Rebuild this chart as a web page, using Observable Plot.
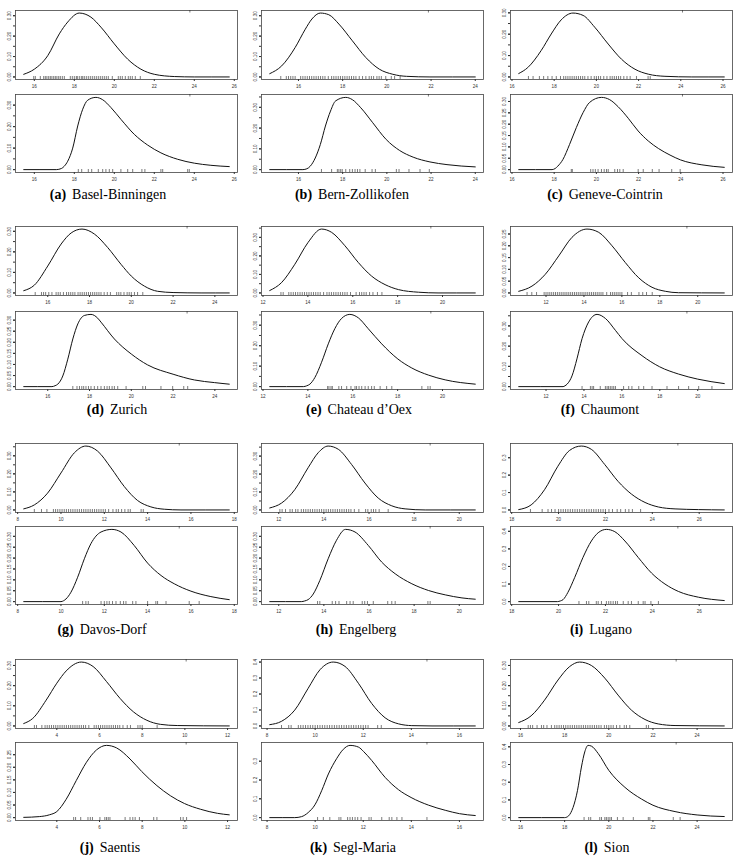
<!DOCTYPE html>
<html><head><meta charset="utf-8">
<script src="https://cdn.jsdelivr.net/npm/d3@7"></script>
<script src="https://cdn.jsdelivr.net/npm/@observablehq/plot@0.6"></script>
<style>
body{margin:0;background:#fff;}
#chart{position:relative;width:736px;height:856px;overflow:hidden;background:#fff;}
.cap{position:absolute;font-family:"Liberation Serif","Times New Roman",serif;font-size:14px;color:#000;white-space:nowrap;transform:translate(-50%,-50%);}
.cap b{margin-right:6px;}
</style></head>
<body><div id="chart"></div>
<script>
// ---------- station names & letters ----------
const letters = ["a","b","c","d","e","f","g","h","i","j","k","l"];
const stations = ["Basel-Binningen","Bern-Zollikofen","Geneve-Cointrin","Zurich","Chateau d\u2019Oex","Chaumont","Davos-Dorf","Engelberg","Lugano","Saentis","Segl-Maria","Sion"];

// ---------- density curves [x, density] (top: fitted, bottom: maxima) ----------
const basel_top = [[15.47,0.013],[16.0,0.038],[16.67,0.104],[17.25,0.211],[17.67,0.269],[18.25,0.313],[18.83,0.293],[19.33,0.244],[20.0,0.162],[20.67,0.087],[21.33,0.038],[22.0,0.013],[23.0,0.002],[24.0,0.0],[25.75,0.0]];
const basel_bottom = [[15.47,0],[17.1,0],[17.35,0.005],[17.5,0.016],[17.67,0.039],[17.92,0.10],[18.17,0.203],[18.42,0.281],[18.67,0.323],[19.08,0.336],[19.42,0.325],[19.83,0.289],[20.33,0.234],[21.0,0.164],[21.67,0.114],[22.33,0.078],[23.17,0.048],[24.0,0.030],[24.83,0.020],[25.75,0.014]];
const bern_top = [[14.70,0.016],[15.24,0.054],[15.85,0.144],[16.31,0.234],[16.61,0.284],[16.99,0.313],[17.37,0.305],[17.83,0.259],[18.44,0.177],[19.05,0.095],[19.66,0.038],[20.27,0.013],[20.89,0.003],[21.95,0],[24.0,0]];
const bern_bottom = [[14.70,0],[16.2,0],[16.38,0.004],[16.53,0.016],[16.76,0.056],[16.99,0.121],[17.22,0.210],[17.45,0.282],[17.68,0.331],[18.14,0.348],[18.44,0.337],[18.82,0.298],[19.36,0.226],[19.97,0.145],[20.58,0.092],[21.19,0.060],[21.95,0.037],[22.72,0.024],[24.0,0.013]];
const geneve_top = [[16.32,0.016],[16.75,0.044],[17.38,0.123],[17.86,0.201],[18.33,0.267],[18.89,0.299],[19.37,0.288],[19.92,0.233],[20.56,0.154],[21.19,0.083],[21.83,0.036],[22.46,0.013],[23.25,0.003],[24.52,0],[26.06,0]];
const geneve_bottom = [[16.32,0],[17.9,0],[18.05,0.005],[18.17,0.015],[18.41,0.044],[18.73,0.111],[19.05,0.185],[19.37,0.251],[19.68,0.296],[20.24,0.318],[20.63,0.308],[21.03,0.277],[21.51,0.226],[21.98,0.170],[22.46,0.126],[22.94,0.093],[23.49,0.064],[23.98,0.043],[25.0,0.021],[26.06,0.010]];
const zurich_top = [[14.85,0.011],[15.36,0.038],[16.0,0.131],[16.64,0.238],[17.12,0.292],[17.64,0.311],[18.23,0.287],[18.87,0.221],[19.51,0.139],[20.0,0.082],[20.63,0.033],[21.26,0.008],[22.0,0.002],[23.34,0],[24.69,0]];
const zurich_bottom = [[14.85,0],[16.2,0],[16.35,0.004],[16.48,0.011],[16.72,0.048],[16.96,0.124],[17.2,0.215],[17.44,0.283],[17.75,0.321],[18.07,0.326],[18.39,0.309],[18.55,0.291],[19.19,0.215],[20.0,0.147],[20.78,0.098],[22.0,0.056],[23.02,0.030],[23.99,0.018],[24.69,0.011]];
const oex_top = [[12.30,0.013],[12.82,0.055],[13.42,0.155],[14.01,0.273],[14.61,0.345],[15.06,0.327],[15.65,0.255],[16.25,0.164],[16.84,0.091],[17.44,0.045],[18.04,0.018],[18.93,0.004],[19.8,0],[21.46,0]];
const oex_bottom = [[12.30,0],[13.8,0],[13.95,0.004],[14.09,0.012],[14.31,0.044],[14.61,0.119],[14.91,0.209],[15.2,0.283],[15.5,0.333],[15.87,0.353],[16.25,0.336],[16.69,0.283],[17.29,0.209],[18.01,0.135],[18.63,0.091],[19.38,0.056],[20.12,0.033],[21.46,0.012]];
const chaumont_top = [[10.56,0.007],[11.26,0.029],[11.96,0.079],[12.67,0.157],[13.37,0.236],[14.16,0.271],[14.78,0.257],[15.48,0.2],[16.18,0.129],[16.89,0.064],[17.59,0.024],[18.29,0.007],[18.99,0.001],[21.40,0]];
const chaumont_bottom = [[10.56,0],[12.9,0],[13.0,0.004],[13.11,0.012],[13.37,0.053],[13.63,0.137],[13.9,0.237],[14.25,0.32],[14.69,0.357],[15.13,0.337],[15.66,0.278],[16.01,0.237],[17.06,0.153],[17.99,0.098],[18.99,0.062],[20.0,0.037],[21.40,0.015]];
const davos_top = [[8.28,0.006],[8.77,0.028],[9.38,0.093],[10.0,0.205],[10.62,0.317],[11.15,0.354],[11.69,0.326],[12.31,0.233],[12.92,0.130],[13.54,0.052],[14.15,0.017],[14.77,0.004],[15.54,0],[17.77,0]];
const davos_bottom = [[8.28,0],[10.0,0],[10.12,0.004],[10.23,0.012],[10.46,0.043],[10.77,0.112],[11.08,0.197],[11.38,0.266],[11.85,0.32],[12.35,0.332],[12.77,0.32],[13.38,0.258],[14.0,0.177],[14.62,0.12],[15.23,0.082],[16.0,0.048],[16.92,0.023],[17.77,0.009]];
const engelberg_top = [[11.6,0.011],[12.12,0.038],[12.71,0.113],[13.3,0.235],[13.75,0.319],[14.19,0.356],[14.64,0.338],[15.23,0.253],[15.82,0.15],[16.41,0.066],[17.01,0.023],[17.6,0.006],[18.49,0],[20.71,0]];
const engelberg_bottom = [[11.6,0],[13.0,0],[13.15,0.003],[13.3,0.009],[13.53,0.035],[13.82,0.097],[14.19,0.197],[14.56,0.282],[14.96,0.332],[15.38,0.32],[15.97,0.258],[16.56,0.182],[17.16,0.128],[17.9,0.082],[18.64,0.051],[19.38,0.031],[20.12,0.017],[20.71,0.011]];
const lugano_top = [[18.3,0.002],[18.83,0.029],[19.4,0.116],[19.97,0.251],[20.47,0.342],[20.97,0.367],[21.4,0.348],[21.97,0.261],[22.54,0.164],[23.11,0.091],[23.69,0.043],[24.26,0.017],[24.97,0.006],[25.97,0.002],[27.07,0]];
const lugano_bottom = [[18.3,0],[19.95,0],[20.08,0.004],[20.19,0.011],[20.4,0.053],[20.69,0.138],[21.04,0.251],[21.4,0.345],[21.69,0.392],[22.04,0.411],[22.4,0.398],[22.83,0.345],[23.4,0.251],[23.97,0.162],[24.54,0.1],[25.11,0.058],[25.97,0.025],[27.07,0.006]];
const saentis_top = [[2.45,0.012],[2.87,0.037],[3.5,0.128],[4.0,0.212],[4.44,0.273],[5.15,0.317],[5.7,0.295],[6.33,0.22],[6.96,0.137],[7.59,0.07],[8.22,0.028],[8.85,0.008],[9.64,0.002],[12.08,0]];
const saentis_bottom = [[2.45,0.001],[3.18,0.004],[3.65,0.011],[4.0,0.024],[4.44,0.073],[4.91,0.147],[5.39,0.22],[5.86,0.269],[6.33,0.287],[6.8,0.277],[7.43,0.233],[7.98,0.183],[8.69,0.127],[9.32,0.087],[9.98,0.056],[10.74,0.033],[11.53,0.017],[12.08,0.011]];
const segl_top = [[8.11,0.008],[8.6,0.029],[9.15,0.099],[9.71,0.236],[10.2,0.352],[10.75,0.4],[11.24,0.373],[11.8,0.267],[12.35,0.141],[12.91,0.051],[13.47,0.013],[14.02,0.002],[14.86,0],[16.66,0]];
const segl_bottom = [[8.11,0],[9.15,0],[9.43,0.005],[9.71,0.027],[9.99,0.068],[10.27,0.143],[10.55,0.232],[10.89,0.313],[11.17,0.363],[11.45,0.384],[11.8,0.375],[12.01,0.352],[12.35,0.304],[12.91,0.214],[13.47,0.148],[13.99,0.107],[14.72,0.066],[15.41,0.039],[16.0,0.021],[16.66,0.011]];
const sion_top = [[15.92,0.017],[16.48,0.05],[17.09,0.128],[17.7,0.228],[18.23,0.295],[18.68,0.317],[19.21,0.3],[19.82,0.237],[20.42,0.153],[21.03,0.078],[21.64,0.032],[22.24,0.01],[23.0,0.002],[25.23,0]];
const sion_bottom = [[15.92,0],[18.0,0],[18.1,0.003],[18.18,0.01],[18.38,0.057],[18.58,0.152],[18.76,0.286],[18.91,0.371],[19.06,0.408],[19.21,0.404],[19.52,0.362],[20.0,0.267],[20.73,0.171],[21.48,0.105],[22.0,0.07],[23.0,0.034],[24.0,0.015],[25.23,0.006]];

// ---------- rug observations ----------
const basel_rugTop = [15.97,16.05,16.3,16.47,16.55,16.63,16.72,16.8,16.88,16.97,17.05,17.13,17.22,17.3,17.4,17.5,17.8,17.9,18.0,18.1,18.15,18.25,18.35,18.42,18.5,18.6,18.7,18.8,18.9,19.0,19.1,19.2,19.3,19.4,19.5,19.6,19.7,19.9,20.2,20.3,20.4,20.55,20.7,20.8,20.9,21.05,21.3];
const basel_rugBottom = [18.2,18.37,18.7,18.87,19.2,19.42,19.58,19.75,19.92,20.33,20.67,20.92,21.38,21.53,22.33,22.42,23.67,23.75];
const bern_rugTop = [15.2,15.45,15.55,15.65,15.75,15.85,16.1,16.2,16.3,16.4,16.5,16.6,16.7,16.8,16.9,17.0,17.1,17.2,17.35,17.5,17.6,17.7,17.8,17.9,18.0,18.1,18.2,18.3,18.4,18.5,18.6,18.75,18.9,19.05,19.2,19.3,19.4,19.55,19.65,19.75,19.95,20.2,20.35,20.6];
const bern_rugBottom = [17.04,17.5,17.76,17.83,17.91,17.98,18.14,18.32,18.44,18.56,18.67,18.78,19.02,19.33,19.48,20.43,20.55,21.0,21.5,21.92];
const geneve_rugTop = [16.78,17.0,17.3,17.5,17.7,17.9,18.1,18.3,18.45,18.55,18.65,18.75,18.85,18.95,19.05,19.15,19.25,19.35,19.45,19.6,19.75,19.9,20.0,20.1,20.2,20.35,20.5,20.65,20.75,20.85,20.95,21.05,21.15,21.3,21.45,21.6,21.9,22.45,22.55];
const geneve_rugBottom = [18.81,18.86,19.73,19.84,19.95,20.08,20.24,20.37,20.48,20.56,20.87,21.0,21.11,21.27,21.98,22.22,22.65,22.97,23.57,23.97];
const zurich_rugTop = [15.4,15.7,15.8,15.9,16.05,16.2,16.4,16.5,16.6,16.75,16.9,17.0,17.1,17.2,17.3,17.45,17.55,17.65,17.75,17.85,17.95,18.05,18.15,18.25,18.35,18.45,18.55,18.7,18.85,19.0,19.3,19.4,19.5,19.65,19.8,19.9,20.0,20.15,20.3,20.55];
const zurich_rugBottom = [17.2,17.4,17.52,17.63,17.72,17.83,17.95,18.07,18.23,18.39,18.55,18.71,18.84,18.95,19.08,19.19,19.35,19.75,20.55,20.68,21.42,21.98,22.51,22.7];
const oex_rugTop = [12.8,12.9,13.15,13.25,13.35,13.45,13.55,13.65,13.75,13.85,13.95,14.05,14.15,14.25,14.35,14.45,14.55,14.7,14.85,14.95,15.05,15.15,15.25,15.35,15.45,15.55,15.65,15.75,15.9,16.15,16.3,16.4,16.5,16.6,16.75,16.9,17.1,17.3];
const oex_rugBottom = [14.88,14.94,15.03,15.09,15.38,15.5,15.73,15.92,16.1,16.17,16.28,16.4,16.55,16.69,16.84,16.96,17.22,17.51,17.74,19.08,19.35,19.45];
const chaumont_rugTop = [11.0,11.25,11.5,11.9,12.0,12.1,12.2,12.3,12.4,12.5,12.6,12.7,12.8,12.9,13.0,13.1,13.2,13.3,13.4,13.5,13.6,13.7,13.8,13.9,14.0,14.1,14.2,14.3,14.4,14.5,14.6,14.7,14.8,14.9,15.0,15.2,15.4,15.5,15.6,15.7,15.8,15.9,16.0,16.3,16.5,16.9,17.1,17.3,17.6];
const chaumont_rugBottom = [13.9,14.34,14.43,14.51,14.86,15.13,15.22,15.3,15.39,15.48,15.57,15.66,16.09,16.36,16.53,16.89,17.15,17.59,18.38,18.99,19.52,20.05,20.75];
const davos_rugTop = [8.77,9.1,9.35,9.65,9.75,9.85,9.95,10.05,10.15,10.25,10.35,10.45,10.55,10.65,10.75,10.85,10.95,11.05,11.15,11.25,11.35,11.45,11.55,11.65,11.75,11.85,11.95,12.05,12.2,12.4,12.55,12.65,12.8,12.95,13.1,13.2,13.7,13.8];
const davos_rugBottom = [11.0,11.15,11.26,11.85,12.0,12.12,12.23,12.38,12.54,12.74,12.89,13.0,13.31,13.46,14.0,14.38,14.46,14.85,15.92,16.38];
const engelberg_rugTop = [12.05,12.15,12.3,12.5,12.6,12.75,12.85,13.0,13.1,13.2,13.3,13.4,13.5,13.6,13.7,13.8,13.9,14.0,14.1,14.2,14.3,14.4,14.5,14.6,14.7,14.8,14.9,15.0,15.1,15.2,15.35,15.55,15.85,15.95,16.1,16.2,16.3,16.45,16.85];
const engelberg_rugBottom = [13.72,13.82,14.37,14.52,14.67,15.01,15.16,15.3,15.7,15.81,15.93,16.19,16.83,17.01,17.16,18.61,18.71];
const lugano_rugTop = [18.8,19.3,19.55,19.7,19.85,20.0,20.1,20.2,20.3,20.4,20.5,20.6,20.7,20.8,20.9,21.0,21.1,21.2,21.3,21.4,21.5,21.6,21.7,21.8,21.9,22.0,22.15,22.3,22.5,22.65,22.85,23.0,23.15,23.5];
const lugano_rugBottom = [20.87,21.19,21.29,21.61,21.69,21.83,22.04,22.14,22.23,22.33,22.43,22.51,22.76,22.97,23.11,23.4,23.61,23.69,23.94,24.26];
const saentis_rugTop = [2.95,3.05,3.3,3.45,3.55,3.65,3.75,3.85,3.95,4.05,4.15,4.25,4.35,4.45,4.55,4.65,4.75,4.85,4.95,5.05,5.15,5.25,5.35,5.5,5.75,5.85,5.95,6.05,6.15,6.25,6.35,6.45,6.55,6.65,6.75,6.85,6.95,7.1,7.3,7.45,7.8,7.9,8.0,8.7];
const saentis_rugBottom = [4.79,4.88,5.12,5.46,5.57,5.67,6.02,6.25,6.33,6.41,6.49,7.2,7.43,7.56,7.67,7.87,8.54,8.69,9.8,9.92,10.08];
const segl_rugTop = [8.6,8.9,9.0,9.3,9.4,9.5,9.6,9.7,9.8,9.9,10.0,10.1,10.2,10.3,10.4,10.5,10.6,10.7,10.8,10.9,11.0,11.1,11.2,11.3,11.4,11.5,11.6,11.7,11.8,11.9,12.0,12.1,12.2,12.6,12.75];
const segl_rugBottom = [10.1,10.34,10.61,10.99,11.07,11.35,11.45,11.55,11.66,11.77,11.91,12.24,12.33,12.77,13.08,13.19,13.4,13.61,14.65];
const sion_rugTop = [16.35,16.45,16.55,16.75,16.95,17.05,17.2,17.4,17.55,17.65,17.75,17.85,17.95,18.05,18.15,18.25,18.35,18.45,18.55,18.65,18.75,18.85,18.95,19.05,19.15,19.25,19.35,19.45,19.55,19.65,19.8,19.9,20.0,20.1,20.2,20.35,20.5,20.7,20.8,20.95,21.7,21.8];
const sion_rugBottom = [18.88,19.09,19.18,19.59,19.67,19.82,19.89,19.97,20.05,20.12,20.39,20.65,21.11,21.79,21.86,22.92,23.23];

// single mark at the top edge of each panel
const topMarks = [23.78,21.88,24.08,22.67,19.48,19.43,15.46,18.71,25.09,10.06,14.65,23.05];

// ---------- tick labels ----------
const xTicks = [[16,18,20,22,24,26],[16,18,20,22,24],[16,18,20,22,24,26],[16,18,20,22,24],[12,14,16,18,20],[12,14,16,18,20],[8,10,12,14,16,18],[12,14,16,18,20],[18,20,22,24,26],[4,6,8,10,12],[8,10,12,14,16],[16,18,20,22,24]];
// [tick step, label step, decimals] for top and bottom panels
const yAxisTop = [[0.05,0.1,2],[0.05,0.1,2],[0.05,0.1,2],[0.05,0.1,2],[0.05,0.1,2],[0.05,0.05,2],[0.05,0.1,2],[0.05,0.1,2],[0.1,0.1,1],[0.05,0.1,2],[0.1,0.1,1],[0.05,0.1,2]];
const yAxisBottom = [[0.05,0.1,2],[0.05,0.1,2],[0.05,0.05,2],[0.05,0.05,2],[0.05,0.1,2],[0.05,0.1,2],[0.05,0.05,2],[0.05,0.05,2],[0.1,0.1,1],[0.05,0.05,2],[0.1,0.1,1],[0.1,0.1,1]];

const topCurves = [basel_top,bern_top,geneve_top,zurich_top,oex_top,chaumont_top,davos_top,engelberg_top,lugano_top,saentis_top,segl_top,sion_top];
const bottomCurves = [basel_bottom,bern_bottom,geneve_bottom,zurich_bottom,oex_bottom,chaumont_bottom,davos_bottom,engelberg_bottom,lugano_bottom,saentis_bottom,segl_bottom,sion_bottom];
const topRugs = [basel_rugTop,bern_rugTop,geneve_rugTop,zurich_rugTop,oex_rugTop,chaumont_rugTop,davos_rugTop,engelberg_rugTop,lugano_rugTop,saentis_rugTop,segl_rugTop,sion_rugTop];
const bottomRugs = [basel_rugBottom,bern_rugBottom,geneve_rugBottom,zurich_rugBottom,oex_rugBottom,chaumont_rugBottom,davos_rugBottom,engelberg_rugBottom,lugano_rugBottom,saentis_rugBottom,segl_rugBottom,sion_rugBottom];

// ---------- layout ----------
const colLeft = [15, 261, 509.5];
const boxW = 222;
const rowTopY = [9.5, 226, 443, 658.5];
const rowBotY = [94, 310.5, 526, 742];
const topH = 69, botH = 78;
const capY = [195, 410, 630, 848];
const capX = [108,352,605,117,359,600,102,356,601,110,353,607];

const chart = document.getElementById("chart");

function subplot(curve, rug, mark, xt, yax, left, top, h) {
  const xs = curve.map(d => d[0]), ys = curve.map(d => d[1]);
  const x0 = d3.min(xs), x1 = d3.max(xs), r = x1 - x0;
  const ymax = d3.max(ys);
  const yTop = 1.04 * ymax;
  const [step, labStep, dec] = yax;
  const n = Math.floor(yTop / step + 1e-6);
  const yTicks = d3.range(0, n + 1).map(i => +(i * step).toFixed(3));
  const yLabels = yTicks.filter(t => Math.abs(Math.round(t / labStep) * labStep - t) < 1e-9);
  const ml = 14, mr = 4, mt = 4, mb = 14;
  const svg = Plot.plot({
    width: boxW + ml + mr,
    height: h + mt + mb,
    marginLeft: ml, marginRight: mr, marginTop: mt, marginBottom: mb,
    x: {domain: [x0 - 0.04 * r, x1 + 0.04 * r]},
    y: {domain: [-0.04 * ymax, yTop]},
    style: {fontSize: "4.6px", fontFamily: "'Liberation Sans', Arial, sans-serif", background: "transparent", overflow: "visible", color: "#333"},
    marks: [
      Plot.frame({stroke: "#444", strokeWidth: 0.8}),
      Plot.axisX(xt, {tickSize: 2, tickPadding: 3.2, tickFormat: d => String(d), fontSize: 4.6}),
      Plot.axisY(yTicks, {tickSize: 2, tickFormat: () => ""}),
      Plot.axisY(yLabels, {tickSize: 2, tickRotate: -90, tickPadding: 2.4, fontSize: 4.6, tickFormat: d3.format("." + dec + "f")}),
      Plot.ruleX(rug, {insetTop: h - 3, stroke: "#222", strokeWidth: 0.6}),
      Plot.ruleX([mark], {insetBottom: h - 2.5, stroke: "#222", strokeWidth: 0.6}),
      Plot.line(curve, {x: d => d[0], y: d => d[1], curve: "monotone-x", stroke: "#111", strokeWidth: 1})
    ]
  });
  svg.style.position = "absolute";
  svg.style.left = (left - ml) + "px";
  svg.style.top = (top - mt) + "px";
  svg.style.maxWidth = "none";
  chart.appendChild(svg);
}

for (let i = 0; i < 12; i++) {
  const row = Math.floor(i / 3), col = i % 3;
  subplot(topCurves[i], topRugs[i], topMarks[i], xTicks[i], yAxisTop[i], colLeft[col], rowTopY[row], topH);
  subplot(bottomCurves[i], bottomRugs[i], topMarks[i], xTicks[i], yAxisBottom[i], colLeft[col], rowBotY[row], botH);
  const cap = document.createElement("div");
  cap.className = "cap";
  cap.style.left = capX[i] + "px";
  cap.style.top = capY[row] + "px";
  const b = document.createElement("b");
  b.textContent = "(" + letters[i] + ")";
  cap.appendChild(b);
  cap.appendChild(document.createTextNode(stations[i]));
  chart.appendChild(cap);
}
</script>
</body></html>
